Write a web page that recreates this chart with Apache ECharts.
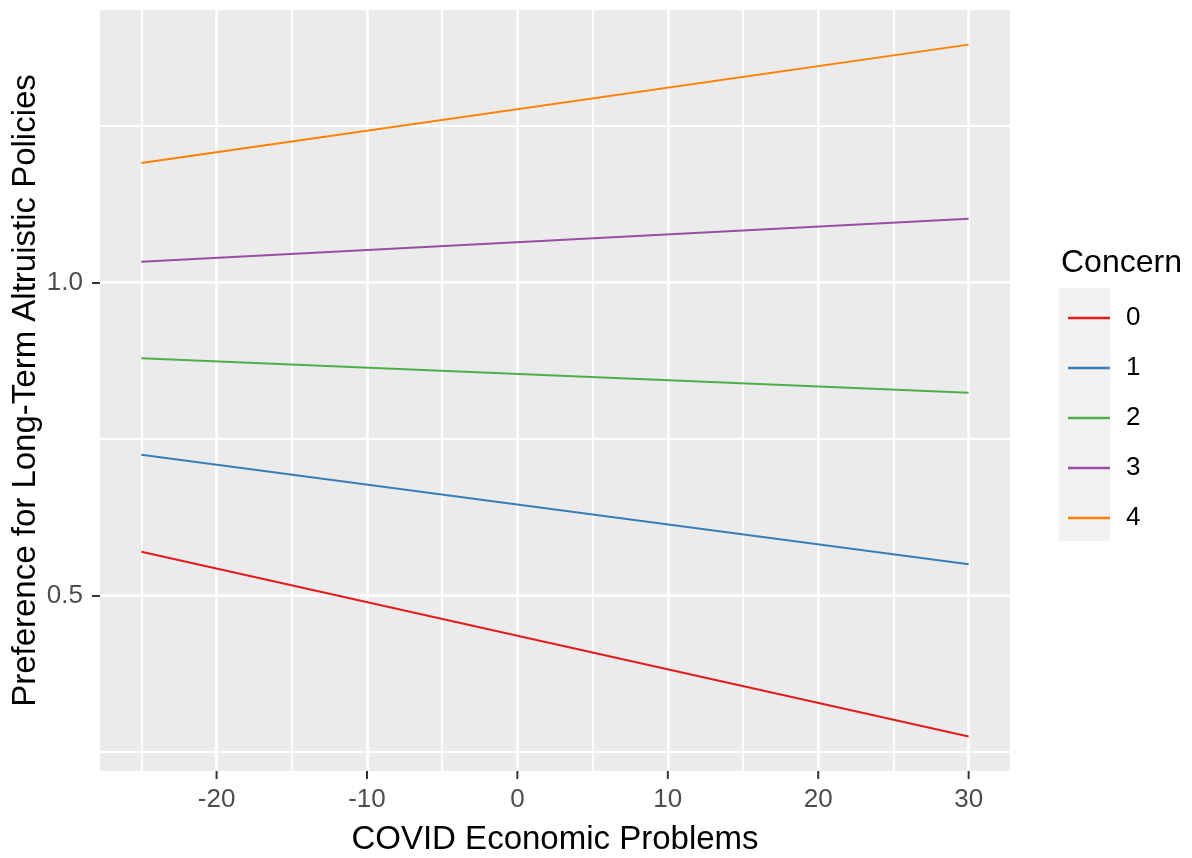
<!DOCTYPE html>
<html>
<head>
<meta charset="utf-8">
<script src="https://cdn.jsdelivr.net/npm/echarts@6/dist/echarts.min.js"></script>
<style>
html,body{margin:0;padding:0;background:#fff;}
#chart{width:1192px;height:858px;}
</style>
</head>
<body>
<div id="chart"></div>
<script>
// ---- data ----
const xValues = [-25, 30];
const concernLevels = ['0', '1', '2', '3', '4'];
const concern0 = [0.570, 0.275];
const concern1 = [0.725, 0.550];
const concern2 = [0.879, 0.824];
const concern3 = [1.033, 1.102];
const concern4 = [1.191, 1.380];
const xMajorTicks = [-20, -10, 0, 10, 20, 30];
const xMinorTicks = [-25, -15, -5, 5, 15, 25];
const yMajorTicks = [0.5, 1.0];
const yMinorTicks = [0.25, 0.75, 1.25];

const seriesValues = [concern0, concern1, concern2, concern3, concern4];
const colors = ['#E41A1C', '#377EB8', '#4DAF4A', '#984EA3', '#FF7F00'];

// ggplot-style 5% expansion
const xMin = -27.75, xMax = 32.75;
const yMin = 0.2198, yMax = 1.4353;

const FONT = '"Liberation Sans", Arial, sans-serif';

const lineSeries = seriesValues.map((vals, i) => ({
  name: concernLevels[i],
  type: 'line',
  xAxisIndex: 0, yAxisIndex: 0,
  symbol: 'none',
  color: colors[i],
  lineStyle: {width: 2, color: colors[i]},
  data: xValues.map((x, j) => [x, vals[j]])
}));

// x-axis tick marks, positioned through the axis scale (api.coord)
const xTickSeries = {
  name: 'xticks',
  type: 'custom',
  xAxisIndex: 0, yAxisIndex: 0,
  silent: true,
  clip: false,
  z: 20,
  renderItem: function (params, api) {
    const p = api.coord([api.value(0), yMin]);
    return {
      type: 'line',
      shape: {x1: p[0], y1: p[1], x2: p[0], y2: p[1] + 8},
      style: {stroke: '#333333', lineWidth: 2}
    };
  },
  data: xMajorTicks.map(v => [v, yMin])
};

const chart = echarts.init(document.getElementById('chart'));
chart.setOption({
  animation: false,
  backgroundColor: '#ffffff',
  title: {
    text: 'Concern',
    left: 1056,
    top: 242,
    textStyle: {fontFamily: FONT, fontSize: 32, fontWeight: 'normal', color: '#000'}
  },
  graphic: [{
    type: 'rect',
    shape: {x: 1059, y: 288, width: 51, height: 253},
    style: {fill: '#F2F2F2'},
    z: 0
  }],
  legend: {
    orient: 'vertical',
    left: 1063,
    top: 300,
    icon: 'rect',
    itemWidth: 42,
    itemHeight: 2.5,
    itemGap: 24,
    textStyle: {fontFamily: FONT, fontSize: 26, color: '#000', padding: [0, 0, 0, 11]},
    data: concernLevels
  },
  grid: {
    left: 100, top: 10, width: 910, height: 761,
    outerBoundsMode: 'none',
    containLabel: false,
    show: true, backgroundColor: '#EBEBEB', borderWidth: 0
  },
  xAxis: [{
    type: 'value', min: xMin, max: xMax, position: 'bottom',
    name: 'COVID Economic Problems',
    nameLocation: 'middle', nameGap: 52, nameMoveOverlap: false,
    nameTextStyle: {fontFamily: FONT, fontSize: 33, color: '#000'},
    axisLine: {show: false, onZero: false},
    axisTick: {show: false, customValues: xMajorTicks},
    axisLabel: {customValues: xMajorTicks, fontFamily: FONT, fontSize: 26, color: '#4D4D4D', margin: 16},
    splitLine: {show: true, lineStyle: {color: '#fff', width: 2.6}}
  }, {
    type: 'value', min: xMin, max: xMax, position: 'top',
    axisLine: {show: false, onZero: false},
    axisTick: {show: false, customValues: xMinorTicks},
    axisLabel: {show: false, customValues: xMinorTicks},
    splitLine: {show: true, lineStyle: {color: '#fff', width: 1.8}}
  }],
  yAxis: [{
    type: 'value', min: yMin, max: yMax, position: 'left',
    name: 'Preference for Long-Term Altruistic Policies',
    nameLocation: 'middle', nameGap: 58, nameMoveOverlap: false,
    nameTextStyle: {fontFamily: FONT, fontSize: 33, color: '#000'},
    axisLine: {show: false, onZero: false},
    axisTick: {show: true, length: 8, customValues: yMajorTicks, lineStyle: {color: '#333', width: 2}},
    axisLabel: {customValues: yMajorTicks, fontFamily: FONT, fontSize: 26, color: '#4D4D4D', margin: 17,
      formatter: v => v.toFixed(1)},
    splitLine: {show: true, lineStyle: {color: '#fff', width: 2.6}}
  }, {
    type: 'value', min: yMin, max: yMax, position: 'right',
    axisLine: {show: false, onZero: false},
    axisTick: {show: false, customValues: yMinorTicks},
    axisLabel: {show: false, customValues: yMinorTicks},
    splitLine: {show: true, lineStyle: {color: '#fff', width: 1.8}}
  }],
  series: lineSeries.concat([xTickSeries])
});
</script>
</body>
</html>
